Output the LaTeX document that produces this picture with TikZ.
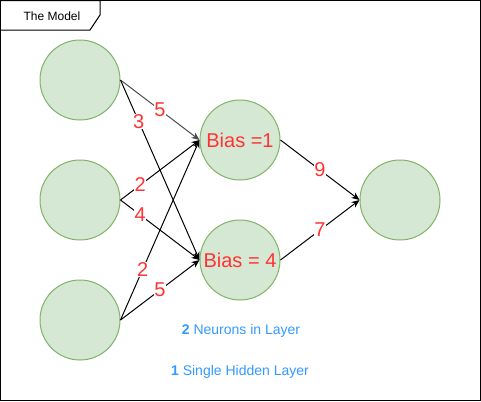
\documentclass[tikz,border=0pt]{standalone}
\usepackage{fontspec}
\setmainfont{Liberation Sans}
\usetikzlibrary{arrows.meta}
\definecolor{neuronfill}{HTML}{D5E8D4}
\definecolor{neurondraw}{HTML}{82B366}
\definecolor{weightred}{HTML}{FF3333}
\definecolor{noteblue}{HTML}{3399FF}
\begin{document}
\begin{tikzpicture}[x=0.75pt,y=-0.75pt,line width=0.75pt,
    neuron/.style={circle,draw=neurondraw,fill=neuronfill,minimum size=60pt,inner sep=0pt},
    weight/.style={fill=white,text=weightred,font=\fontsize{15}{17}\selectfont,inner sep=0.5pt},
    link/.style={-{Stealth[length=6pt,width=5pt]},black},
    note/.style={text=noteblue,font=\fontsize{10.5}{12}\selectfont}]
  \useasboundingbox (0,0) rectangle (481,401);
  \draw (0.5,0.5) rectangle (480.5,400.5);
  \draw (0.5,0.5) -- (100,0.5) -- (100,15) -- (90,30) -- (0.5,30);
  \node[font=\fontsize{9}{11}\selectfont] (title) at (52,16) {The Model};

  % input layer
  \node[neuron] (in1) at (80,80) {};
  \node[neuron] (in2) at (80,200) {};
  \node[neuron] (in3) at (80,320) {};

  % hidden layer
  \node[neuron,text=weightred,font=\fontsize{15}{17}\selectfont] (hid1) at (240,140) {Bias =1};
  \node[neuron,text=weightred,font=\fontsize{15}{17}\selectfont] (hid2) at (240,260) {Bias = 4};

  % output
  \node[neuron] (out) at (400,200) {};

  \draw[link,black!70] (in1.east) -- node[weight,pos=.5] {5} (hid1.west);
  \draw[link] (in1.east) -- node[weight,pos=.23] {3} (hid2.west);
  \draw[link] (in2.east) -- node[weight,pos=.25] {2} (hid1.west);
  \draw[link] (in2.east) -- node[weight,pos=.25] {4} (hid2.west);
  \draw[link] (in3.east) -- node[weight,pos=.28] {2} (hid1.west);
  \draw[link] (in3.east) -- node[weight,pos=.5] {5} (hid2.west);
  \draw[link] (hid1.east) -- node[weight,pos=.5] {9} (out.west);
  \draw[link] (hid2.east) -- node[weight,pos=.5] {7} (out.west);

  \node[note] (neurons) at (241,331) {\textbf{2} Neurons in Layer};
  \node[note] (layers) at (240,372) {\textbf{1} Single Hidden Layer};
\end{tikzpicture}
\end{document}
